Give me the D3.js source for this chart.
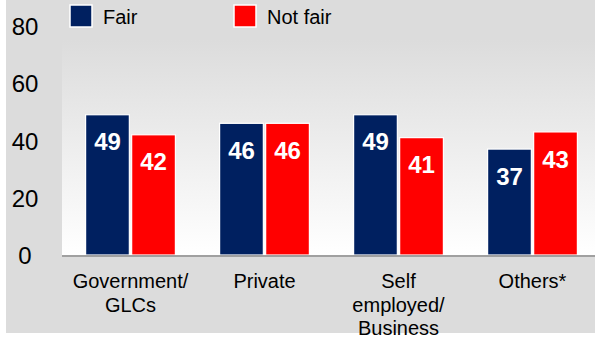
<!DOCTYPE html>
<html><head><meta charset="utf-8">
<script src="https://cdn.jsdelivr.net/npm/d3@7"></script>
<style>body{margin:0;background:#fff}svg{display:block}text{font-family:"Liberation Sans",Arial,sans-serif}</style>
</head><body>
<svg id="c" width="595" height="339"></svg>
<script>
const categories = [["Government/","GLCs"],["Private"],["Self","employed/","Business"],["Others*"]];
const seriesNames = ["Fair","Not fair"];
const fair = [49,46,49,37];
const notFair = [42,46,41,43];
const yTicks = [0,20,40,60,80];
const colors = ["#002060","#ff0000"];

const svg = d3.select("#c");
const defs = svg.append("defs");
const g = defs.append("linearGradient").attr("id","bg").attr("x1",0).attr("y1",0).attr("x2",0).attr("y2",1);
g.append("stop").attr("offset","0%").attr("stop-color","#dcdcdc");
g.append("stop").attr("offset","100%").attr("stop-color","#ffffff");

svg.append("rect").attr("x",6).attr("y",0).attr("width",589).attr("height",333).attr("fill","#dcdcdc");

const y = d3.scaleLinear().domain([0,80]).range([255,26]);
const x0 = d3.scaleBand().domain(d3.range(categories.length)).range([63.5,599.5]).paddingInner(0.33).paddingOuter(0.165);
const x1 = d3.scaleBand().domain([0,1]).range([0,x0.bandwidth()]).paddingInner(0.05);

svg.append("rect").attr("x",62).attr("y",40).attr("width",533).attr("height",y(0)-40).attr("fill","url(#bg)");

// y axis labels
const yAxis = d3.axisLeft(y).tickValues(yTicks).tickSize(0).tickPadding(0);
const ya = svg.append("g").attr("transform","translate(25,0)").call(yAxis);
ya.select(".domain").remove();
ya.selectAll("text").attr("font-size",24).attr("fill","#000").attr("text-anchor","middle").attr("dy","0.36em").attr("font-family","Liberation Sans, Arial, sans-serif");

const data = categories.map((c,i)=>[fair[i],notFair[i]]);
const groups = svg.selectAll(".grp").data(data).join("g").attr("transform",(d,i)=>`translate(${x0(i)},0)`);
groups.selectAll("rect").data(d=>d).join("rect")
  .attr("x",(d,j)=>x1(j)).attr("width",x1.bandwidth())
  .attr("y",d=>y(d)).attr("height",d=>y(0)-y(d))
  .attr("fill",(d,j)=>colors[j]).attr("stroke","#ffffff").attr("stroke-width",1.2);
groups.selectAll("text").data(d=>d).join("text")
  .attr("x",(d,j)=>x1(j)+x1.bandwidth()/2).attr("y",d=>y(d)+27)
  .attr("dy","0.36em").attr("text-anchor","middle").attr("fill","#fff")
  .attr("font-size",24).attr("font-weight","bold").text(d=>d);

// baseline
svg.append("line").attr("x1",62).attr("x2",598).attr("y1",y(0)+1).attr("y2",y(0)+1).attr("stroke","#a0a0a0").attr("stroke-width",2);

// x labels
const xl = svg.selectAll(".xl").data(categories).join("text")
  .attr("text-anchor","middle").attr("font-size",20).attr("fill","#000");
xl.each(function(d,i){
  const t=d3.select(this);
  d.forEach((line,k)=>t.append("tspan").attr("x",x0(i)+x0.bandwidth()/2).attr("y",288+k*23.5).text(line));
});

// legend
const legX = [70,234];
const leg = svg.selectAll(".lg").data(seriesNames).join("g").attr("transform",(d,i)=>`translate(${legX[i]},5)`);
leg.append("rect").attr("width",22).attr("height",22).attr("fill",(d,i)=>colors[i]).attr("stroke","#fff").attr("stroke-width",1.5);
leg.append("text").attr("x",33).attr("y",12).attr("dy","0.36em").attr("font-size",20).attr("fill","#000").text(d=>d);
</script>
</body></html>
